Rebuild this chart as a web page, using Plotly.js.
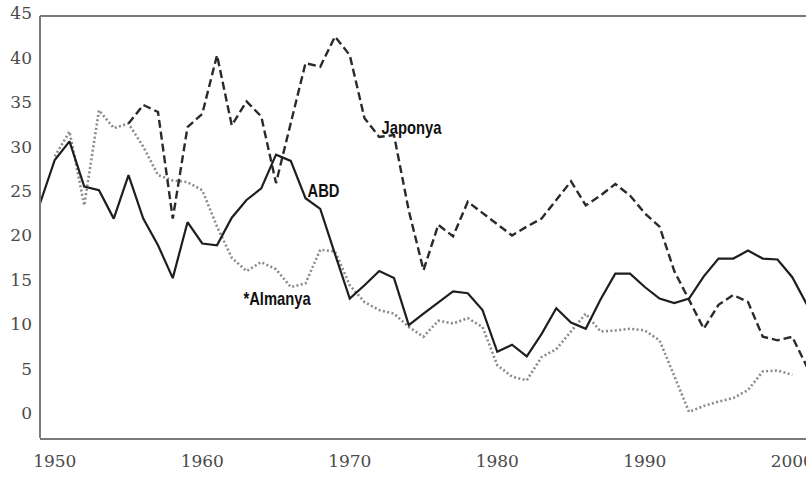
<!DOCTYPE html>
<html>
<head>
<meta charset="utf-8">
<script src="https://cdn.plot.ly/plotly-3.0.1.min.js"></script>
<style>html,body{margin:0;padding:0;background:#fff;}#chart{width:806px;height:477px;}</style>
</head>
<body>
<div id="chart"></div>
<script>
const usaYears = [1949,1950,1951,1952,1953,1954,1955,1956,1957,1958,1959,1960,1961,1962,1963,1964,1965,1966,1967,1968,1969,1970,1971,1972,1973,1974,1975,1976,1977,1978,1979,1980,1981,1982,1983,1984,1985,1986,1987,1988,1989,1990,1991,1992,1993,1994,1995,1996,1997,1998,1999,2000,2001];
const usaValues = [23.6,28.5,30.6,25.5,25.1,21.9,26.8,21.9,18.9,15.2,21.5,19.1,18.9,22.0,24.0,25.3,29.1,28.4,24.2,23.0,17.9,12.9,14.4,16.0,15.2,9.9,11.2,12.5,13.7,13.5,11.6,6.9,7.7,6.4,8.9,11.8,10.2,9.5,12.8,15.7,15.7,14.2,12.9,12.4,12.9,15.4,17.4,17.4,18.3,17.4,17.3,15.3,12.2];

const japanYears = [1955,1956,1957,1958,1959,1960,1961,1962,1963,1964,1965,1966,1967,1968,1969,1970,1971,1972,1973,1974,1975,1976,1977,1978,1979,1980,1981,1982,1983,1984,1985,1986,1987,1988,1989,1990,1991,1992,1993,1994,1995,1996,1997,1998,1999,2000,2001];
const japanValues = [32.6,34.7,33.9,21.9,32.2,33.7,40.3,32.4,35.1,33.4,25.9,32.8,39.4,39.0,42.4,40.3,33.2,31.1,31.3,22.8,16.1,21.2,19.9,23.8,22.5,21.3,20.0,21.0,21.9,24.0,26.1,23.4,24.5,25.8,24.5,22.5,21.0,16.0,12.7,9.5,12.2,13.3,12.5,8.6,8.2,8.6,5.2];

const germanyYears = [1950,1951,1952,1953,1954,1955,1956,1957,1958,1959,1960,1961,1962,1963,1964,1965,1966,1967,1968,1969,1970,1971,1972,1973,1974,1975,1976,1977,1978,1979,1980,1981,1982,1983,1984,1985,1986,1987,1988,1989,1990,1991,1992,1993,1994,1995,1996,1997,1998,1999,2000];
const germanyValues = [28.9,31.7,23.4,34.1,32.1,32.6,30.0,26.8,26.2,26.0,25.1,21.0,17.5,16.0,17.0,16.2,14.2,14.6,18.4,18.2,14.4,12.5,11.6,11.2,9.7,8.6,10.4,10.1,10.7,9.7,5.4,4.1,3.7,6.3,7.2,9.2,11.2,9.2,9.3,9.5,9.3,8.2,4.1,0.15,0.8,1.3,1.7,2.6,4.7,4.8,4.3];

const xTickVals = [1950,1960,1970,1980,1990,2000];
const xTickText = ['1950','1960','1970','1980','1990','2000'];
const yTickVals = [0,5,10,15,20,25,30,35,40,45];

const seriesLabels = ['ABD','Japonya','*Almanya'];

const traces = [
  {x: germanyYears, y: germanyValues, type:'scatter', mode:'lines', name:'Almanya',
   line:{color:'#8a8a8a', width:2.6, dash:'2px,2.4px'}},
  {x: japanYears, y: japanValues, type:'scatter', mode:'lines', name:'Japonya',
   line:{color:'#2a2a2a', width:2.4, dash:'8px,4px'}},
  {x: usaYears, y: usaValues, type:'scatter', mode:'lines', name:'ABD',
   line:{color:'#1e1e1e', width:2.2}}
];

const labelFont = {family:'"Liberation Sans", Arial, sans-serif', size:18, color:'#111', weight:'bold'};

const layout = {
  width:806, height:477,
  margin:{l:40, r:0, t:13, b:39, pad:0},
  paper_bgcolor:'#fff', plot_bgcolor:'#fff',
  showlegend:false,
  xaxis:{range:[1949,2000.93], tickvals:xTickVals, ticktext:xTickText, ticks:'', showgrid:false, zeroline:false,
         showline:true, linecolor:'#7a7a7a', linewidth:2, ticklabelstandoff:7, ticklabeloverflow:'allow',
         tickfont:{family:'"DejaVu Serif", serif', size:17, color:'#4a4a4a'}},
  yaxis:{range:[-2.8,45.05], tickvals:yTickVals, ticks:'', showgrid:false, zeroline:false,
         showline:false, ticklabelstandoff:7, ticklabeloverflow:'allow',
         tickfont:{family:'"DejaVu Serif", serif', size:17, color:'#4a4a4a'}},
  shapes:[
    {type:'line', xref:'paper', yref:'y', x0:0, x1:1, y0:44.7, y1:44.7, line:{color:'#7a7a7a', width:2}},
    {type:'line', xref:'paper', yref:'y', x0:0, x1:0, y0:-2.8, y1:44.7, line:{color:'#7a7a7a', width:2}}
  ],
  annotations:[
    {x:1968.2, y:25.0, xref:'x', yref:'y', text:seriesLabels[0], showarrow:false, xanchor:'center', yanchor:'middle', font:labelFont},
    {x:1974.2, y:32.1, xref:'x', yref:'y', text:seriesLabels[1], showarrow:false, xanchor:'center', yanchor:'middle', font:labelFont},
    {x:1965.1, y:12.8, xref:'x', yref:'y', text:seriesLabels[2], showarrow:false, xanchor:'center', yanchor:'middle', font:labelFont}
  ]
};

Plotly.newPlot('chart', traces, layout, {displayModeBar:false, staticPlot:true}).then(function(gd){
  // condense the label text horizontally (narrow bold face look)
  gd.querySelectorAll('.annotation-text').forEach(function(t){
    const cx = parseFloat(t.getAttribute('x')) || 0;
    t.setAttribute('transform', 'translate(' + cx + ',0) scale(0.82,1) translate(' + (-cx) + ',0)');
  });
});
</script>
</body>
</html>
